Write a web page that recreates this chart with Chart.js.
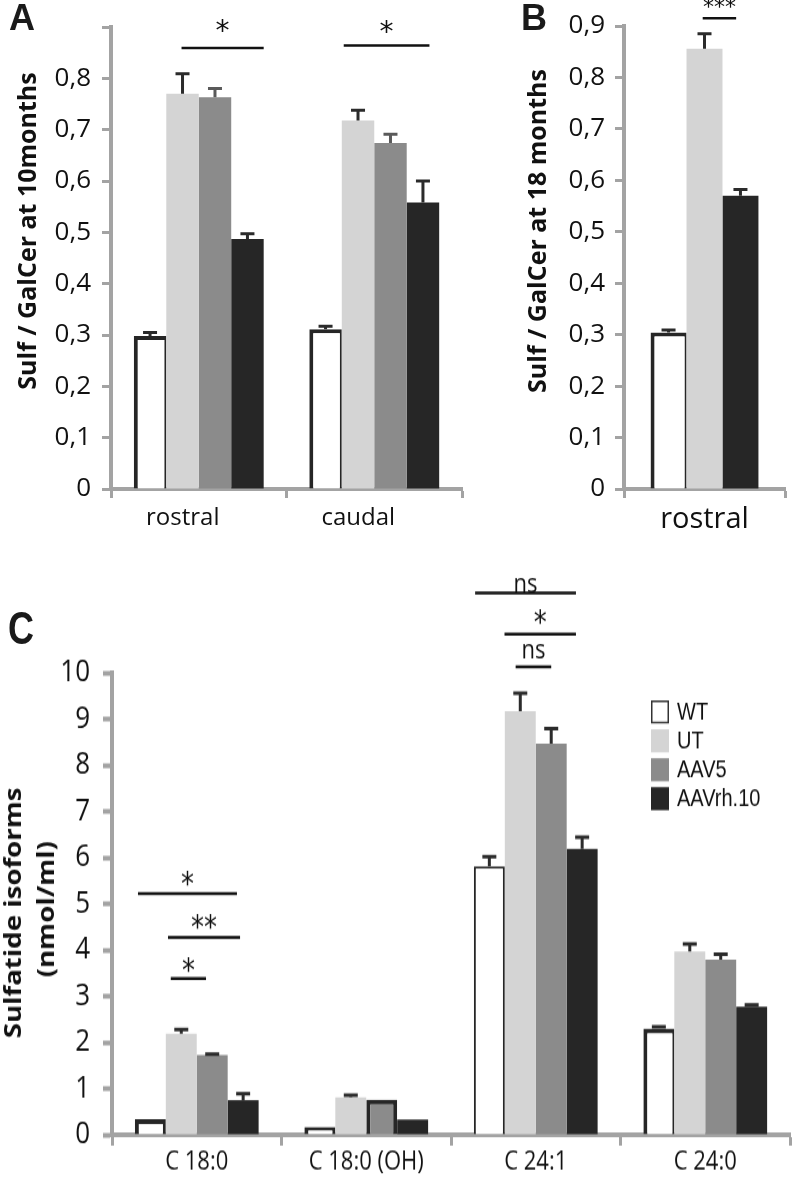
<!DOCTYPE html>
<html><head><meta charset="utf-8">
<script src="https://cdn.jsdelivr.net/npm/chart.js@4.4.1/dist/chart.umd.min.js"></script>
<style>
html,body{margin:0;padding:0;background:#fff;}
body{width:792px;height:1177px;position:relative;overflow:hidden;}
canvas{position:absolute;}
#cC{transform:scaleY(1.2);transform-origin:0 0;}
.lbl{position:absolute;font:bold 36px 'Liberation Sans',Arial,sans-serif;line-height:36px;color:#1a1a1a;}
</style></head><body>
<canvas id="cA" width="470" height="540" style="left:0;top:0"></canvas>
<canvas id="cB" width="322" height="540" style="left:470px;top:0"></canvas>
<canvas id="cC" width="792" height="514" style="left:0;top:560px"></canvas>
<div class="lbl" style="left:9px;top:0px">A</div>
<div class="lbl" style="left:521px;top:0px">B</div>
<div class="lbl" style="left:8px;top:605px;transform:scaleY(1.3);transform-origin:0 0">C</div>
<script>
// ---------- data ----------
const groupLabels = ['WT', 'UT', 'AAV5', 'AAVrh.10'];

// Panel A (10 months)
const catsA = ['rostral', 'caudal'];
const A_WT = [0.298, 0.311];
const A_UT = [0.770, 0.718];
const A_AAV5 = [0.763, 0.674];
const A_RH10 = [0.487, 0.558];
const A_WT_err = [0.007, 0.006];
const A_UT_err = [0.039, 0.020];
const A_AAV5_err = [0.017, 0.017];
const A_RH10_err = [0.010, 0.042];
const yTicksA = ['0', '0,1', '0,2', '0,3', '0,4', '0,5', '0,6', '0,7', '0,8', ''];
const sigA = [
  {cat: 0, from: 0.97, to: 3.5, y: 0.859, label: '*', gap: 17},
  {cat: 1, from: 0.56, to: 3.2, y: 0.864, label: '*', gap: 13}
];

// Panel B (18 months)
const catsB = ['rostral'];
const B_WT = [0.304];
const B_UT = [0.856];
const B_RH10 = [0.570];
const B_WT_err = [0.005];
const B_UT_err = [0.029];
const B_RH10_err = [0.012];
const yTicksB = ['0', '0,1', '0,2', '0,3', '0,4', '0,5', '0,6', '0,7', '0,8', '0,9'];
const sigB = [
  {cat: 0, from: 0.95, to: 1.88, y: 0.915, label: '***', gap: 11}
];

// Panel C (sulfatide isoforms)
const catsC = ['C 18:0', 'C 18:0 (OH)', 'C 24:1', 'C 24:0'];
const C_WT = [0.34, 0.17, 5.81, 2.30];
const C_UT = [2.19, 0.81, 9.17, 3.97];
const C_AAV5 = [1.73, 0.76, 8.47, 3.79];
const C_RH10 = [0.75, 0.33, 6.19, 2.77];
const C_WT_err = [0, 0, 0.21, 0.04];
const C_UT_err = [0.09, 0.05, 0.39, 0.16];
const C_AAV5_err = [0.02, 0, 0.32, 0.12];
const C_RH10_err = [0.14, 0, 0.25, 0.04];
const yTicksC = ['0', '1', '2', '3', '4', '5', '6', '7', '8', '9', '10'];
const sigC = [
  {cat: 0, from: -0.4, to: 2.8, y: 5.22, label: '*', gap: 7.5},
  {cat: 0, from: 0.57, to: 2.9, y: 4.27, label: '**', gap: 7.5},
  {cat: 0, from: 0.66, to: 1.8, y: 3.38, label: '*', gap: 6},
  {cat: 2, from: -0.46, to: 2.8, y: 11.73, label: 'ns', gap: 0},
  {cat: 2, from: 0.49, to: 2.8, y: 10.84, label: '*', gap: 9},
  {cat: 2, from: 0.85, to: 2.0, y: 10.13, label: 'ns', gap: 6.5}
];

// ---------- styles ----------
const colWT = '#ffffff', colUT = '#d4d4d4', colAAV5 = '#8b8b8b', colRH = '#262626';
const dark = '#262626';
const axisGray = '#a3a3a3';
const FAM = "'Open Sans', sans-serif";

// ---------- plugins ----------
const errorBars = {
  id: 'errorBars',
  afterDatasetsDraw(chart) {
    const ctx = chart.ctx, ys = chart.scales.y;
    chart.data.datasets.forEach((d, i) => {
      if (!d.errors) return;
      chart.getDatasetMeta(i).data.forEach((bar, j) => {
        const e = d.errors[j];
        if (!e) return;
        const top = ys.getPixelForValue(d.data[j] + e);
        ctx.save();
        ctx.strokeStyle = d.errorColor || '#2b2b2b';
        ctx.lineWidth = 3;
        ctx.beginPath();
        ctx.moveTo(bar.x, bar.y);
        ctx.lineTo(bar.x, top);
        ctx.moveTo(bar.x - 7, top);
        ctx.lineTo(bar.x + 7, top);
        ctx.stroke();
        ctx.restore();
      });
    });
  }
};

function makeSig(list, starSize, nsSize) {
  return {
    id: 'sig',
    afterDraw(chart) {
      const ctx = chart.ctx, ys = chart.scales.y;
      const m0 = chart.getDatasetMeta(0).data, m1 = chart.getDatasetMeta(1).data;
      list.forEach(b => {
        const x0 = m0[b.cat].x, step = m1[b.cat].x - x0;
        const x1 = x0 + b.from * step, x2 = x0 + b.to * step;
        const yy = ys.getPixelForValue(b.y);
        ctx.save();
        ctx.strokeStyle = '#111';
        ctx.lineWidth = 2.5;
        ctx.beginPath();
        ctx.moveTo(x1, yy);
        ctx.lineTo(x2, yy);
        ctx.stroke();
        ctx.fillStyle = '#111';
        ctx.textAlign = 'center';
        ctx.textBaseline = 'alphabetic';
        const cx = (x1 + x2) / 2;
        if (b.label === 'ns') {
          ctx.font = nsSize + "px " + FAM;
          ctx.fillText(b.label, cx, yy - b.gap);
        } else {
          ctx.font = starSize + "px 'DejaVu Sans', sans-serif";
          ctx.fillText(b.label, cx, yy - b.gap + 0.32 * starSize);
        }
        ctx.restore();
      });
    }
  };
}

function makeYTitle(items, font) {
  return {
    id: 'yTitle',
    afterDraw(chart) {
      const ctx = chart.ctx;
      ctx.save();
      ctx.fillStyle = '#111';
      ctx.font = font;
      ctx.textAlign = 'center';
      ctx.textBaseline = 'alphabetic';
      items.forEach(it => {
        ctx.save();
        ctx.translate(it.x, it.y);
        ctx.rotate(-Math.PI / 2);
        ctx.fillText(it.text, 0, 0);
        ctx.restore();
      });
      ctx.restore();
    }
  };
}

const legendC = {
  id: 'legendC',
  afterDraw(chart) {
    const ctx = chart.ctx;
    chart.data.datasets.forEach((d, i) => {
      const top = 117 + i * 24.1;
      ctx.save();
      ctx.fillStyle = d.backgroundColor;
      ctx.fillRect(651, top, 18, 19.2);
      if (i === 0) {
        ctx.strokeStyle = '#333';
        ctx.lineWidth = 1.5;
        ctx.strokeRect(651.75, top + 0.75, 16.5, 17.7);
      }
      ctx.fillStyle = '#111';
      ctx.font = "20px 'Liberation Sans', Arial, sans-serif";
      ctx.textAlign = 'left';
      ctx.textBaseline = 'middle';
      ctx.fillText(d.label, 677, top + 10);
      ctx.restore();
    });
  }
};

// ---------- scale helpers ----------
function yScale(max, step, labels, fontSize, pad, width, tickW) {
  return {
    min: 0, max: max,
    ticks: {stepSize: step, autoSkip: false, font: {family: FAM, size: fontSize}, color: '#111', padding: pad,
            callback: (v, i) => labels[i]},
    grid: {drawOnChartArea: false, drawTicks: true, tickLength: 9, tickWidth: tickW, tickColor: axisGray},
    border: {display: true, color: axisGray, width: 4},
    afterFit: s => { s.width = width; }
  };
}
function xScale(fontSize, pad, labelOffset, height) {
  return {
    ticks: {font: {family: FAM, size: fontSize}, color: '#111', padding: pad, labelOffset: labelOffset,
            maxRotation: 0, autoSkip: false},
    grid: {offset: true, drawOnChartArea: false, drawTicks: true, tickLength: 9, tickWidth: 3, tickColor: axisGray},
    border: {display: true, color: axisGray, width: 4},
    afterFit: s => { s.height = height; }
  };
}
function baseOpts(padding, catPct, xs, ys) {
  return {
    responsive: false, animation: false, devicePixelRatio: 1,
    layout: {padding: padding},
    plugins: {legend: {display: false}, tooltip: {enabled: false}},
    datasets: {bar: {categoryPercentage: catPct, barPercentage: 1, borderSkipped: 'start'}},
    scales: {x: xs, y: ys}
  };
}
const wtBorder = {top: 4, left: 4, right: 2, bottom: 0};

// ---------- Panel A ----------
new Chart(document.getElementById('cA'), {
  type: 'bar',
  data: {
    labels: catsA,
    datasets: [
      {label: groupLabels[0], data: A_WT, errors: A_WT_err, backgroundColor: colWT, borderColor: dark, borderWidth: wtBorder},
      {label: groupLabels[1], data: A_UT, errors: A_UT_err, backgroundColor: colUT, borderWidth: 0},
      {label: groupLabels[2], data: A_AAV5, errors: A_AAV5_err, errorColor: '#5a5a5a', backgroundColor: colAAV5, borderWidth: 0},
      {label: groupLabels[3], data: A_RH10, errors: A_RH10_err, backgroundColor: colRH, borderWidth: 0}
    ]
  },
  options: baseOpts({left: 0, right: 8, top: 27, bottom: 0}, 0.74,
    xScale(24, 6, -16, 51), yScale(0.9, 0.1, yTicksA, 26, 11, 111, 3)),
  plugins: [errorBars, makeSig(sigA, 28, 24), makeYTitle([{text: 'Sulf / GalCer at 10months', x: 36, y: 231}], "bold 25px " + FAM)]
});

// ---------- Panel B ----------
new Chart(document.getElementById('cB'), {
  type: 'bar',
  data: {
    labels: catsB,
    datasets: [
      {label: groupLabels[0], data: B_WT, errors: B_WT_err, backgroundColor: colWT, borderColor: dark, borderWidth: wtBorder},
      {label: groupLabels[1], data: B_UT, errors: B_UT_err, backgroundColor: colUT, borderWidth: 0},
      {label: groupLabels[3], data: B_RH10, errors: B_RH10_err, backgroundColor: colRH, borderWidth: 0}
    ]
  },
  options: baseOpts({left: 0, right: 7, top: 26, bottom: 0}, 0.67,
    xScale(29, 4, 0, 51), yScale(0.9, 0.1, yTicksB, 26, 10, 154, 3)),
  plugins: [errorBars, makeSig(sigB, 22, 24), makeYTitle([{text: 'Sulf / GalCer at 18 months', x: 76, y: 231}], "bold 25px " + FAM)]
});

// ---------- Panel C (drawn at 1/1.2 height, stretched by CSS) ----------
new Chart(document.getElementById('cC'), {
  type: 'bar',
  data: {
    labels: catsC,
    datasets: [
      {label: groupLabels[0], data: C_WT, errors: C_WT_err, backgroundColor: colWT, borderColor: dark,
       borderWidth: [{top: 4, left: 4, right: 3, bottom: 0}, {top: 4, left: 4, right: 3, bottom: 0}, {top: 2, left: 2, right: 2, bottom: 0}, {top: 4, left: 4, right: 2, bottom: 0}]},
      {label: groupLabels[1], data: C_UT, errors: C_UT_err, backgroundColor: colUT, borderWidth: 0},
      {label: groupLabels[2], data: C_AAV5, errors: C_AAV5_err, backgroundColor: colAAV5, borderColor: dark, borderWidth: [0, 4, 0, 0]},
      {label: groupLabels[3], data: C_RH10, errors: C_RH10_err, backgroundColor: colRH, borderWidth: 0}
    ]
  },
  options: baseOpts({left: 0, right: 2, top: 94, bottom: 0}, 0.73,
    xScale(22, 1, 0, 35), yScale(10, 1, yTicksC, 26, 13, 112, 4)),
  plugins: [errorBars, makeSig(sigC, 26, 22), legendC,
    makeYTitle([{text: 'Sulfatide isoforms', x: 21, y: 294}, {text: '(nmol/ml)', x: 54, y: 291}], "bold 23px " + FAM)]
});
</script>
</body></html>
